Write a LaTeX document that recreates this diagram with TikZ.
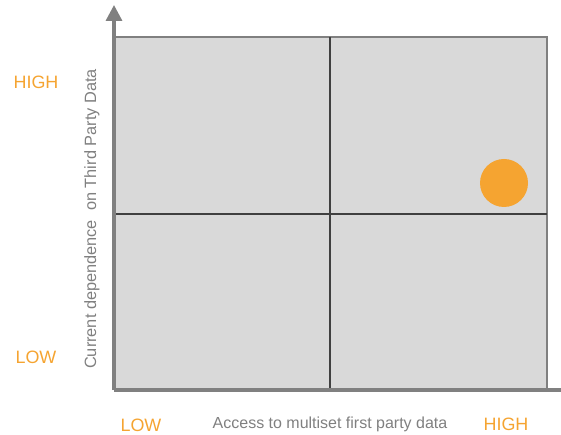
\documentclass[tikz,border=0pt]{standalone}
\usepackage{fontspec}
\setmainfont{Liberation Sans}
\usetikzlibrary{arrows.meta, positioning}
\definecolor{AxisGray}{HTML}{808080}
\definecolor{CellGray}{HTML}{D9D9D9}
\definecolor{GridDark}{HTML}{404040}
\definecolor{Marker}{HTML}{F5A431}

\begin{document}
\begin{tikzpicture}[
        x=0.02cm, y=-0.02cm,
        axis/.style={draw=AxisGray, line width=1.9pt},
        divider/.style={draw=GridDark, line width=0.8pt},
        level/.style={text=Marker, font=\fontsize{10.2}{12}\selectfont, inner sep=0pt},
        caption/.style={text=AxisGray, font=\fontsize{9.1}{11}\selectfont, inner sep=0pt}
    ]
        \useasboundingbox (0,0) rectangle (561,435);

        % Corners of the matrix
        \coordinate (tl) at (115,37);
        \coordinate (br) at (547,389);
        \coordinate (origin) at (114,390);
        \coordinate (ytip) at (114,5);
        \coordinate (xend) at (561,390);

        % Quadrants
        \fill [CellGray] (tl) rectangle (br);
        \draw [axis, line width=1.5pt] (origin |- tl) -- (br |- tl) -- (br);
        \draw [divider] (330,37) -- (330,389);
        \draw [divider] (115,214) -- (547,214);

        % Axes
        \draw [axis, -{Triangle[width=9pt, length=9pt]}] (origin) -- (ytip);
        \draw [axis] (origin) -- (xend);

        % Position marker
        \node (marker) [circle, fill=Marker, minimum size=48*0.02cm, inner sep=0pt] at (504,183) {};

        % Labels
        \node (yhigh) [level] at (36,82) {HIGH};
        \node (ylow) [level] at (36,357) {LOW};
        \node (ylabel) [caption, font=\fontsize{9.3}{11}\selectfont, rotate=90] at (92,219) {Current dependence\ \ on Third Party Data};
        \node (xlow) [level] at (141,425) {LOW};
        \node (xlabel) [caption] at (330,424) {Access to multiset first party data};
        \node (xhigh) [level] at (506,424) {HIGH};
    \end{tikzpicture}
\end{document}
